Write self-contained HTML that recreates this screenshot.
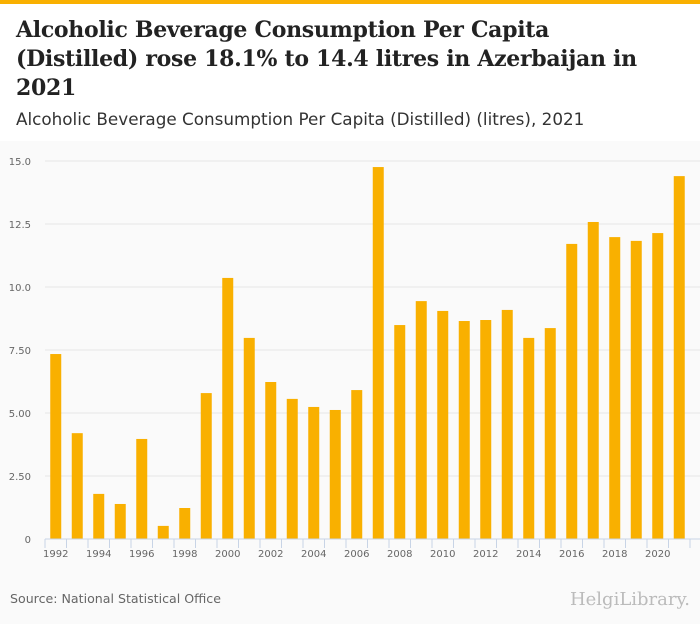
<!DOCTYPE html>
<html><head><meta charset="utf-8"><style>
body{margin:0;width:700px;height:624px;background:#fafafa;font-family:"DejaVu Sans",sans-serif;overflow:hidden;position:relative}
#top{position:absolute;left:0;top:0;width:700px;height:4px;background:#f9b000}
#head{position:absolute;left:0;top:4px;width:700px;height:137px;background:#fff}
h1{position:absolute;left:16px;top:12px;margin:0;font-family:"DejaVu Serif",serif;font-size:22px;font-weight:bold;line-height:29px;color:#222;white-space:nowrap;letter-spacing:-0.3px}
#sub{position:absolute;left:16px;top:105px;font-size:16.8px;color:#333;white-space:nowrap}
#src{position:absolute;left:10px;top:591px;font-size:12.6px;color:#666}
#logo{position:absolute;right:10px;top:589px;font-size:18px;color:#bbb;font-family:"DejaVu Serif",serif}
</style></head><body>
<div id="top"></div>
<div id="head">
<h1>Alcoholic Beverage Consumption Per Capita<br>(Distilled) rose 18.1% to 14.4 litres in Azerbaijan in<br>2021</h1>
<div id="sub">Alcoholic Beverage Consumption Per Capita (Distilled) (litres), 2021</div>
</div>
<svg id="chart" width="700" height="624" style="position:absolute;left:0;top:0"></svg>
<div id="src">Source: National Statistical Office</div>
<div id="logo">HelgiLibrary.</div>
<script>
const years=[1992,1993,1994,1995,1996,1997,1998,1999,2000,2001,2002,2003,2004,2005,2006,2007,2008,2009,2010,2011,2012,2013,2014,2015,2016,2017,2018,2019,2020,2021];
const values=[7.34,4.2,1.79,1.39,3.97,0.52,1.23,5.79,10.36,7.98,6.23,5.56,5.24,5.12,5.91,14.76,8.49,9.44,9.05,8.65,8.69,9.09,7.98,8.37,11.71,12.58,11.98,11.83,12.14,14.4];
const yTicks=[0,2.5,5,7.5,10,12.5,15];
const yTickLabels=["0","2.50","5.00","7.50","10.0","12.5","15.0"];
const NS="http://www.w3.org/2000/svg",svg=document.getElementById('chart');
const x0=45,x1=690,gridEnd=700,y0=539,yTop=161,band=(x1-x0)/years.length;
const y=v=>y0-(v/15)*(y0-yTop);
const xc=i=>x0+(i+0.5)*band;
function mk(t,a){const e=document.createElementNS(NS,t);for(const k in a)e.setAttribute(k,a[k]);svg.appendChild(e);return e;}
yTicks.forEach((t,i)=>{
 if(t>0){const g=mk('line',{x1:x0,x2:gridEnd,y1:y(t),y2:y(t),stroke:'#e6e6e6','stroke-width':1});
 
 }
 const l=mk('text',{x:31,y:y(t)+4,'text-anchor':'end','font-size':10,fill:'#666','font-family':'DejaVu Sans, sans-serif'});
 l.textContent=yTickLabels[i];
 
 
});
values.forEach((v,i)=>{
 const r=mk('rect',{x:xc(i)-5.5,y:y(v),width:11,height:y0-y(v),fill:'#f9b000'});
 
 
});
const ax=mk('line',{x1:x0,x2:gridEnd,y1:y0,y2:y0,stroke:'#c8d4e6','stroke-width':1});


for(let i=0;i<=years.length;i++){
 const tk=mk('line',{x1:x0+i*band,x2:x0+i*band,y1:y0,y2:y0+9,stroke:'#c8d4e6','stroke-width':1});
 
 
}
years.forEach((yr,i)=>{
 if(i%2)return;
 const l=mk('text',{x:xc(i),y:557,'text-anchor':'middle','font-size':10,fill:'#666','font-family':'DejaVu Sans, sans-serif'});
 l.textContent=yr;
 
 
});
</script>
</body></html>
